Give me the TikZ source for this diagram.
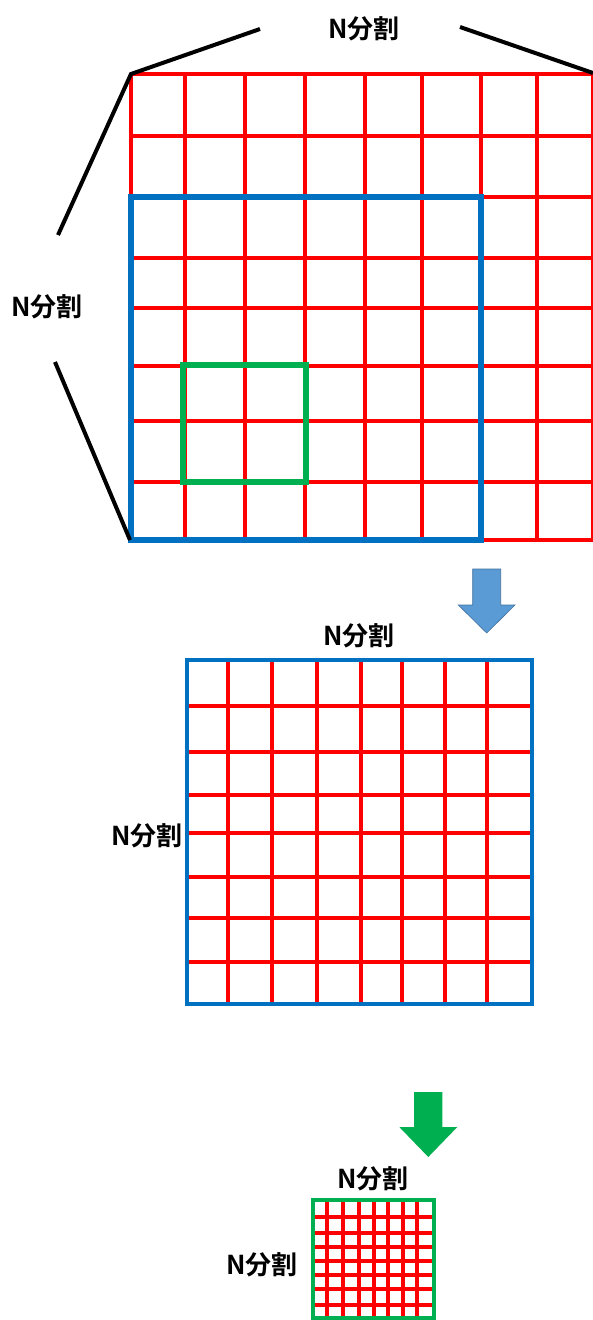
\documentclass[tikz,border=0pt]{standalone}
\usepackage{fontspec}
\newfontfamily\jpfont{Noto Sans CJK JP}[BoldFont={* Bold}]
\definecolor{gridred}{HTML}{FF0000}
\definecolor{boxblue}{HTML}{0070C0}
\definecolor{boxgreen}{HTML}{00B050}
\definecolor{arrblue}{HTML}{5B9BD5}
\definecolor{arrblueline}{HTML}{41719C}
\tikzset{
  redline/.style={draw=gridred, line width=4pt},
  redthick/.style={draw=gridred, line width=4.3pt},
  bluebox/.style={draw=boxblue, line width=6.5pt},
  greenbox/.style={draw=boxgreen, line width=5.5pt},
  greenbox2/.style={draw=boxgreen, line width=4.5pt},
  braceline/.style={draw=black, line width=4pt},
  lbl/.style={font=\jpfont\bfseries\fontsize{26}{28}\selectfont, inner sep=0pt, text=black}
}
\begin{document}
\begin{tikzpicture}[x=1pt, y=-1pt]
\useasboundingbox (0,0) rectangle (593,1320);
\fill[white] (0,0) rectangle (593,1320);

% ---------- top grid ----------
\foreach \xx in {131,185,245,305,365,422,481,537,593}
  \draw[redline] (\xx,74) -- (\xx,540);
\foreach \yy in {74,136,197,258,308,366,421,482,540}
  \draw[redline] (131,\yy) -- (593,\yy);
\draw[bluebox] (131,197) rectangle (481,540);
\draw[greenbox] (183,365) rectangle (306,482);

\coordinate (gTL) at (131,74);
\coordinate (gTR) at (593,73);
\coordinate (gBL) at (130,540);
\coordinate (tL) at (260,29);
\coordinate (tR) at (460,27);
\coordinate (lU) at (58,235);
\coordinate (lD) at (55,362);
\draw[braceline] (tL) -- (gTL) -- (lU);
\draw[braceline] (tR) -- (gTR);
\draw[braceline] (lD) -- (gBL);

\node[lbl] (topN) at (364,29) {N分割};
\node[lbl] (leftN) at (47,307) {N分割};

% ---------- blue arrow ----------
\filldraw[fill=arrblue, draw=arrblueline, line width=0.6pt]
  (472.7,569) -- (500.7,569) -- (500.7,605) -- (515,605) -- (486.7,633)
  -- (458.3,605) -- (472.7,605) -- cycle;

% ---------- middle grid ----------
\node[lbl] (midTopN) at (359,636) {N分割};
\node[lbl] (midLeftN) at (147,836) {N分割};
\foreach \xx in {227.7,272,316.7,361,402,445.3,486.7}
  \draw[redthick] (\xx,660) -- (\xx,1004);
\foreach \yy in {706,751.7,795.3,833.3,876.7,917.7,962.3}
  \draw[redthick] (187,\yy) -- (532,\yy);
\draw[bluebox, line width=4.8pt] (187,660) rectangle (532,1004);

% ---------- green arrow ----------
\fill[boxgreen]
  (414,1092) -- (442.3,1092) -- (442.3,1127) -- (457.3,1127) -- (428.3,1157)
  -- (399.3,1127) -- (414,1127) -- cycle;

% ---------- bottom grid ----------
\node[lbl] (botTopN) at (373,1179) {N分割};
\node[lbl] (botLeftN) at (262,1265) {N分割};
\foreach \xx in {327.3,342.7,358.7,374,388.3,403.3,416.7}
  \draw[redthick] (\xx,1200) -- (\xx,1318);
\foreach \yy in {1216.7,1232.7,1247.3,1260.7,1275.3,1289.3,1304.7}
  \draw[redthick] (313,\yy) -- (434,\yy);
\draw[greenbox2] (313,1200) rectangle (434,1318);
\end{tikzpicture}
\end{document}
